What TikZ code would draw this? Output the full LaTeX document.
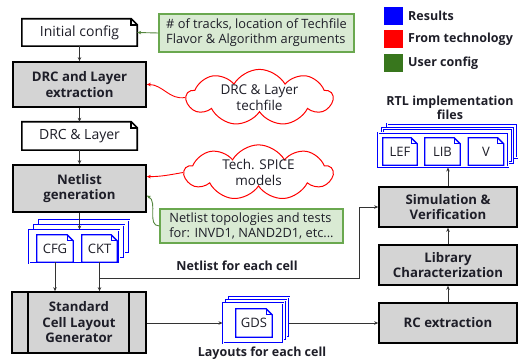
\documentclass[tikz,border=0pt]{standalone}
\usepackage{fontspec}
\setmainfont{Open Sans}
\usetikzlibrary{shapes.symbols,arrows.meta,calc}
\definecolor{boxgray}{HTML}{D4D4D4}
\definecolor{txt}{HTML}{1E1E28}
\definecolor{gfill}{HTML}{D9EAD3}
\definecolor{gborder}{HTML}{6AA84F}
\definecolor{legendgreen}{HTML}{38761D}
\definecolor{rblue}{HTML}{0000FF}
\definecolor{rred}{HTML}{FF0000}
\newcommand{\docfold}[2]{%
  \draw[#2] (#1.south west) -- (#1.north west) -- ([xshift=-6pt]#1.north east) -- ([yshift=-6pt]#1.north east) -- (#1.south east) -- cycle;
  \draw[#2] ([xshift=-6pt]#1.north east) -- ([xshift=-6pt,yshift=-6pt]#1.north east) -- ([yshift=-6pt]#1.north east);}
\begin{document}
\begin{tikzpicture}[x=1pt,y=-1pt,
  every node/.style={text=txt, inner sep=0pt, align=center},
  fbig/.style={font=\fontsize{14}{16.5}\selectfont},
  fdoc/.style={font=\fontsize{13}{15.5}\selectfont},
  fbigb/.style={font=\fontsize{13.2}{15.5}\selectfont\bfseries},
  fmid/.style={font=\fontsize{12.8}{15}\selectfont},
  fcloud/.style={font=\fontsize{13.5}{16}\selectfont},
  flbl/.style={font=\fontsize{12.5}{14.5}\selectfont\bfseries},
  procbox/.style={draw=black, line width=1.6pt, fill=boxgray, fbigb},
  docbox/.style={fill=white},
  docline/.style={draw=black, line width=1.6pt},
  bdocline/.style={draw=rblue, line width=1.3pt},
  greenbox/.style={draw=gborder, fill=gfill, line width=1.2pt, fmid, align=left},
  cloudnode/.style={cloud, cloud puffs=9, cloud puff arc=120, cloud ignores aspect, draw=rred, line width=1pt, fill=white, fcloud},
  stackrect/.style={draw=rblue, double=white, double distance=1pt, line width=0.9pt, fill=white},
  arr/.style={draw=black!80, line width=1pt, -{Stealth[length=4pt,width=3.5pt]}},
  redarr/.style={draw=rred, line width=0.9pt, -{Stealth[length=4pt,width=3.5pt]}},
  greenarr/.style={draw=gborder!80!black, line width=0.9pt, -{Stealth[length=4pt,width=3.5pt]}},
  legsq/.style={minimum width=19pt, minimum height=18pt},
  leglbl/.style={flbl, anchor=west}
]
\useasboundingbox (0,0) rectangle (518,363);

% legend
\node[legsq, fill=rblue] (lgB) at (393.5,16) {};
\node[legsq, fill=rred] (lgR) at (393.5,39.5) {};
\node[legsq, fill=legendgreen] (lgG) at (393.5,63.5) {};
\node[leglbl] (lgBt) at (408,16) {Results};
\node[leglbl] (lgRt) at (408,39.5) {From technology};
\node[leglbl] (lgGt) at (408,63.5) {User config};

% left column
\node[docbox, fbig, minimum width=115pt, minimum height=27pt] (init) at (79.5,32.5) {Initial config};
\docfold{init}{docline}
\node[procbox, minimum width=133pt, minimum height=45pt] (drc) at (79.5,84.5) {DRC and Layer\\extraction};
\node[docbox, fbig, minimum width=115pt, minimum height=28pt] (drcl) at (79.5,136) {DRC \& Layer};
\docfold{drcl}{docline}
\node[procbox, minimum width=133pt, minimum height=47pt] (net) at (79.5,188.5) {Netlist\\generation};

% CFG / CKT stack
\node[stackrect, minimum width=90pt, minimum height=33pt] (cfgS3) at (84,236.5) {};
\node[stackrect, minimum width=90pt, minimum height=33pt] (cfgS2) at (79,241.5) {};
\node[stackrect, minimum width=90pt, minimum height=33pt] (cfgS1) at (74,246.5) {};
\node[docbox, fdoc, minimum width=36pt, minimum height=27pt] (cfg) at (55,248.5) {CFG};
\docfold{cfg}{bdocline}
\node[docbox, fdoc, minimum width=35pt, minimum height=27pt] (ckt) at (99.5,248.5) {CKT};
\docfold{ckt}{bdocline}

\node[procbox, minimum width=134pt, minimum height=61pt] (std) at (79,322.5) {Standard\\Cell Layout\\Generator};
\draw[line width=1.6pt] ([xshift=17pt]std.north west) -- ([xshift=17pt]std.south west);
\draw[line width=1.6pt] ([xshift=-18pt]std.north east) -- ([xshift=-18pt]std.south east);

% GDS stack
\node[stackrect, minimum width=60pt, minimum height=40pt] (gdsS3) at (259,317) {};
\node[stackrect, minimum width=60pt, minimum height=40pt] (gdsS2) at (256,320) {};
\node[stackrect, minimum width=60pt, minimum height=40pt] (gdsS1) at (253,323) {};
\node[docbox, fdoc, minimum width=36pt, minimum height=28pt] (gds) at (254,323) {GDS};
\docfold{gds}{bdocline}

% right column
\node[procbox, minimum width=138pt, minimum height=40pt] (rc) at (448,323) {RC extraction};
\node[procbox, minimum width=138pt, minimum height=40pt] (lib) at (448,265) {Library\\Characterization};
\node[procbox, minimum width=138pt, minimum height=40pt] (sim) at (448,207) {Simulation \&\\Verification};

% RTL stack
\node[stackrect, minimum width=130pt, minimum height=34pt] (rtlS3) at (452,141) {};
\node[stackrect, minimum width=130pt, minimum height=34pt] (rtlS2) at (447.5,145.5) {};
\node[stackrect, minimum width=130pt, minimum height=34pt] (rtlS1) at (443,150) {};
\node[docbox, fdoc, minimum width=34pt, minimum height=27pt] (lef) at (400,151.5) {LEF};
\docfold{lef}{bdocline}
\node[docbox, fdoc, minimum width=35pt, minimum height=27pt] (libf) at (442.5,151.5) {LIB};
\docfold{libf}{bdocline}
\node[docbox, fdoc, minimum width=35pt, minimum height=27pt] (vf) at (486,151.5) {V};
\docfold{vf}{bdocline}

% clouds and user config
\node[greenbox, minimum width=195pt, minimum height=38pt] (g1) at (256.5,33) {\# of tracks, location of Techfile\\Flavor \& Algorithm arguments};
\node[greenbox, minimum width=183pt, minimum height=34pt] (g2) at (251.5,226) {Netlist topologies and tests\\for: INVD1, NAND2D1, etc...};
\node[cloudnode, minimum width=146pt, minimum height=56pt] (c1) at (259.5,97.5) {DRC \& Layer\\techfile};
\node[cloudnode, minimum width=148pt, minimum height=52pt] (c2) at (258.5,172.5) {Tech. SPICE\\models};

% labels
\node[flbl] (lblnet) at (237,266) {Netlist for each cell};
\node[flbl] (lbllay) at (262,353) {Layouts for each cell};
\node[flbl] (lblrtl) at (450,108) {RTL implementation\\files};

% connectors
\draw[arr] (init.south) -- (drc.north);
\draw[arr] (drc.south) -- (drcl.north);
\draw[arr] (drcl.south) -- (net.north);
\draw[arr] (net.south) -- (net.south |- cfgS1.north);
\draw[arr] (cfg.south) -- (cfg.south |- std.north);
\draw[arr] (ckt.south) -- (ckt.south |- std.north);
\coordinate (nlj) at (99.5,278);
\coordinate (nlbend) at (359,278);
\draw[arr] (nlj) -- (nlbend) |- (sim.west);
\draw[arr] (std.east |- gdsS1.west) -- (gdsS1.west);
\draw[arr] (gdsS3.east |- rc.west) -- (rc.west);
\draw[arr] (rc.north) -- (lib.south);
\draw[arr] (lib.north) -- (sim.south);
\draw[arr] (sim.north) -- (sim.north |- rtlS1.south);
\draw[greenarr] (g1.west) -- (init.east);
\draw[greenarr] (g2.west) to[out=180,in=-30] (net.-6);
\draw[redarr] (c1.west) to[out=190,in=0] (drc.east);
\draw[redarr] (c2.west) to[out=190,in=0] (net.10);
\end{tikzpicture}
\end{document}
